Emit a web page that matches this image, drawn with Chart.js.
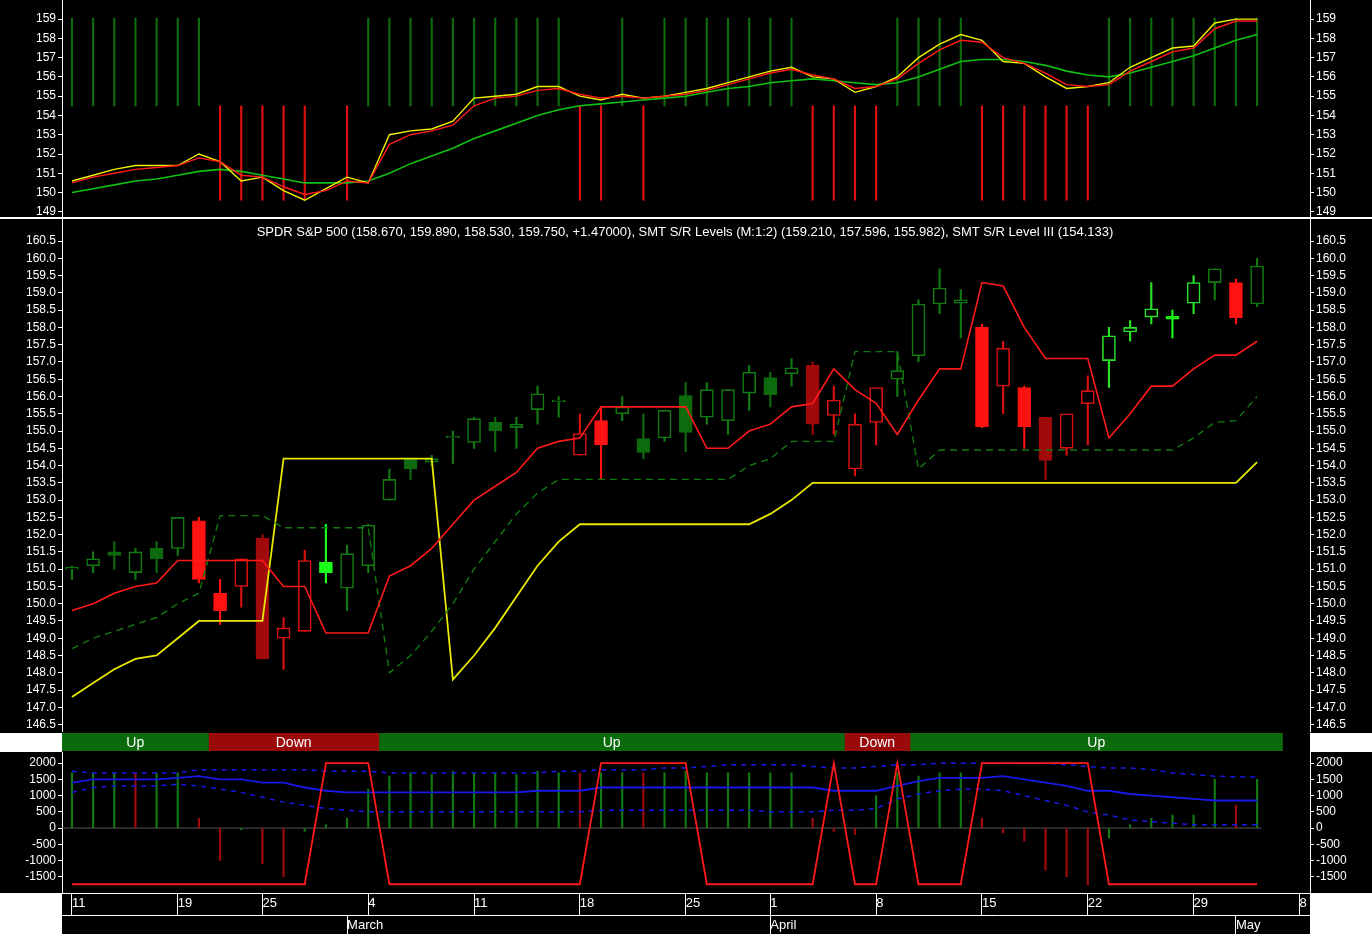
<!DOCTYPE html>
<html>
<head>
<meta charset="utf-8">
<script src="https://cdn.jsdelivr.net/npm/chart.js@4.4.1/dist/chart.umd.min.js"></script>
<style>
  body { margin:0; background:#000; width:1372px; height:934px; overflow:hidden; position:relative; font-family:"Liberation Sans", Arial, sans-serif; }
  .box { position:absolute; }
  .white { position:absolute; background:#fff; }
</style>
</head>
<body>
<div class="white" style="left:0;top:733px;width:62px;height:19px"></div>
<div class="white" style="left:1310px;top:733px;width:62px;height:19px"></div>
<div class="white" style="left:0;top:893px;width:62px;height:41px"></div>
<div class="white" style="left:1310px;top:893px;width:62px;height:41px"></div>
<div class="box" style="left:0;top:-9px;width:1372px;height:236px"><canvas id="top"></canvas></div>
<div class="box" style="left:0;top:210px;width:1372px;height:531px"><canvas id="main"></canvas></div>
<div class="white" style="left:0;top:217px;width:1372px;height:2px"></div>
<div class="box" style="left:62px;top:733px;width:1248px;height:18px;background:#000"><canvas id="band"></canvas></div>
<div class="box" style="left:0;top:743px;width:1372px;height:191px"><canvas id="bottom"></canvas></div>
<script>
// daily OHLC, Feb 11 - May 2
const opens  = [151.0,151.1,151.5,150.9,151.6,151.6,152.4,150.3,150.5,151.9,149.0,149.2,151.2,150.45,151.1,153.0,154.2,154.1,154.8,154.67,155.25,155.1,155.62,155.85,154.3,155.3,155.5,154.78,154.8,156.03,155.4,155.3,156.1,156.55,156.66,156.9,155.45,153.9,155.25,156.5,157.18,158.68,158.7,158.0,156.3,156.26,155.4,154.5,155.79,157.04,157.87,158.3,158.24,158.7,159.3,159.3,158.68];
const highs  = [151.1,151.5,151.8,151.6,151.8,152.5,152.5,150.7,151.3,152.0,149.6,151.55,152.3,151.7,152.3,153.9,154.2,154.3,155.0,155.4,155.4,155.4,156.3,156.0,155.5,155.7,156.0,155.5,155.6,156.4,156.4,156.2,156.9,156.7,157.1,157.0,156.3,155.5,156.2,157.3,158.8,159.7,159.1,158.1,157.6,156.3,155.4,155.5,156.6,158.0,158.2,159.3,158.5,159.5,159.7,159.4,160.0];
const lows   = [150.7,150.9,151.0,150.7,150.9,151.4,150.6,149.4,149.9,148.4,148.1,149.2,150.6,149.8,150.9,153.0,153.6,154.0,154.06,154.5,154.4,154.5,155.2,155.4,154.3,153.6,155.3,154.2,154.7,154.4,155.2,154.9,155.6,155.7,156.3,154.9,154.9,153.7,154.6,156.0,157.0,158.4,157.7,155.1,155.5,154.5,153.6,154.3,154.6,156.26,157.6,158.1,157.7,158.4,158.8,158.1,158.6];
const closes = [151.05,151.3,151.4,151.5,151.3,152.5,150.7,149.8,151.3,148.4,149.3,151.25,150.9,151.45,152.27,153.6,153.9,154.2,154.85,155.36,155.0,155.2,156.08,155.9,154.93,154.6,155.7,154.38,155.6,154.96,156.2,156.2,156.7,156.05,156.83,155.2,155.9,155.2,156.26,156.75,158.68,159.14,158.8,155.13,157.4,155.13,154.15,155.5,156.17,157.76,158.0,158.54,158.32,159.3,159.7,158.28,159.78];
const kinds = ['g','g','G','g','G','g','R','R','r','D','r','r','B','g','g','g','G','g','g','g','G','g','g','g','r','R','g','G','g','G','g','g','g','G','g','D','r','r','r','g','g','g','g','R','r','R','D','r','r','L','L','L','B','L','g','R','g'];

// S/R levels
const srLevel1 = [149.8,150.0,150.3,150.5,150.6,151.25,151.25,151.25,151.25,151.25,150.5,150.5,149.15,149.15,149.15,150.8,151.1,151.6,152.3,153.0,153.4,153.8,154.5,154.7,154.8,155.7,155.7,155.7,155.7,155.7,154.5,154.5,155.0,155.2,155.7,155.8,156.8,156.2,155.8,154.9,155.9,156.8,156.8,159.3,159.2,158.0,157.1,157.1,157.1,154.8,155.5,156.3,156.3,156.8,157.2,157.2,157.6];
const srLevel2 = [148.7,149.0,149.2,149.4,149.6,150.0,150.3,152.55,152.55,152.55,152.2,152.2,152.2,152.2,152.2,148.0,148.5,149.2,150.0,151.0,151.8,152.6,153.2,153.6,153.6,153.6,153.6,153.6,153.6,153.6,153.6,153.6,154.0,154.2,154.7,154.7,154.7,157.3,157.3,157.3,153.9,154.45,154.45,154.45,154.45,154.45,154.45,154.45,154.45,154.45,154.45,154.45,154.45,154.8,155.25,155.3,156.0];
const srLevel3 = [147.3,147.7,148.1,148.4,148.5,149.0,149.5,149.5,149.5,149.5,154.2,154.2,154.2,154.2,154.2,154.2,154.2,154.2,147.8,148.5,149.3,150.2,151.1,151.8,152.3,152.3,152.3,152.3,152.3,152.3,152.3,152.3,152.3,152.6,153.0,153.5,153.5,153.5,153.5,153.5,153.5,153.5,153.5,153.5,153.5,153.5,153.5,153.5,153.5,153.5,153.5,153.5,153.5,153.5,153.5,153.5,154.1];

// top panel averages and signal
const fastAvg = [150.6,150.9,151.2,151.4,151.4,151.4,152.0,151.6,150.6,150.8,150.1,149.6,150.2,150.8,150.5,153.0,153.2,153.3,153.7,154.9,155.0,155.1,155.5,155.5,155.0,154.8,155.1,154.9,155.0,155.2,155.4,155.7,156.0,156.3,156.5,156.0,155.9,155.2,155.5,156.0,157.0,157.7,158.2,157.9,156.8,156.7,156.0,155.4,155.5,155.7,156.5,157.0,157.5,157.6,158.8,159.0,159.0];
const midAvg  = [150.5,150.8,151.0,151.2,151.3,151.4,151.8,151.6,150.9,150.8,150.3,149.9,150.1,150.6,150.5,152.5,153.0,153.2,153.5,154.5,154.9,155.0,155.3,155.4,155.1,154.9,155.0,154.9,155.0,155.1,155.3,155.6,155.9,156.2,156.4,156.1,155.9,155.4,155.5,155.9,156.7,157.4,157.9,157.8,157.0,156.7,156.2,155.6,155.5,155.6,156.3,156.8,157.3,157.5,158.5,158.9,158.9];
const slowAvg = [150.0,150.2,150.4,150.6,150.7,150.9,151.1,151.2,151.1,150.9,150.7,150.5,150.5,150.5,150.6,151.0,151.5,151.9,152.3,152.8,153.2,153.6,154.0,154.3,154.5,154.6,154.7,154.8,154.9,155.0,155.2,155.4,155.5,155.7,155.8,155.9,155.8,155.7,155.6,155.7,156.0,156.4,156.8,156.9,156.9,156.8,156.6,156.3,156.1,156.0,156.2,156.5,156.8,157.1,157.5,157.9,158.2];
const trendSignal = [1,1,1,1,1,1,1,-1,-1,-1,-1,-1,0,-1,1,1,1,1,1,1,1,1,1,1,-1,-1,1,-1,1,1,1,1,1,1,1,-1,-1,-1,-1,1,1,1,1,-1,-1,-1,-1,-1,-1,1,1,1,1,1,1,1,1];

// bottom panel
const histo = [1700,1700,1700,1700,1700,1700,300,-1000,-50,-1100,-1500,-100,100,300,1200,1600,1700,1650,1750,1700,1700,1650,1750,1700,1700,1700,1700,1700,1700,1750,1700,1700,1700,1700,1700,300,-100,-200,1000,1700,1600,1700,1700,300,-150,-400,-1300,-1500,-1750,-300,100,300,400,400,1500,700,1500];
const histoKind = ['g','g','g','r','g','g','r','r','g','r','r','g','g','g','g','g','g','g','g','g','g','g','g','g','r','g','g','r','g','g','g','g','g','g','g','r','r','r','g','g','g','g','g','r','r','r','r','r','r','g','g','g','g','g','g','r','g'];
const blueMid   = [1400,1500,1500,1500,1500,1550,1600,1500,1500,1400,1400,1250,1150,1100,1100,1100,1100,1100,1100,1100,1100,1100,1150,1150,1150,1250,1250,1250,1250,1250,1250,1250,1250,1250,1250,1250,1150,1150,1150,1300,1450,1550,1550,1550,1600,1500,1400,1300,1150,1150,1050,1000,950,900,850,850,850];
const blueUpper = [1750,1700,1700,1700,1700,1700,1800,1800,1800,1800,1800,1800,1750,1750,1750,1700,1700,1700,1700,1700,1700,1700,1700,1750,1750,1800,1800,1800,1850,1850,1900,1950,1950,1950,1950,1900,1850,1850,1900,1950,1950,2000,2000,2000,2000,2000,2000,1950,1900,1850,1850,1800,1700,1650,1600,1580,1570];
const blueLower = [1100,1250,1300,1300,1300,1350,1300,1200,1100,950,800,700,600,550,500,500,500,500,500,500,500,500,500,500,500,550,550,550,550,550,550,550,550,500,500,500,550,550,600,900,1050,1150,1200,1200,1150,1000,850,700,500,400,250,200,150,100,100,100,100];
const oscillator = [-1730,-1730,-1730,-1730,-1730,-1730,-1730,-1730,-1730,-1730,-1730,-1730,2000,2000,2000,-1730,-1730,-1730,-1730,-1730,-1730,-1730,-1730,-1730,-1730,2000,2000,2000,2000,2000,-1730,-1730,-1730,-1730,-1730,-1730,2000,-1730,-1730,2000,-1730,-1730,-1730,2000,2000,2000,2000,2000,2000,-1730,-1730,-1730,-1730,-1730,-1730,-1730,-1730];

// trend band
const bandStarts = [-0.47, 6.45, 14.5, 36.5, 39.6];
const bandEnds   = [6.45, 14.5, 36.5, 39.6, 57.2];
const bandLabels = ['Up','Down','Up','Down','Up'];

// x axis
const dayTickIdx = [0,5,9,14,19,24,29,33,38,43,48,53,58];
const dayLabels  = ['11','19','25','4','11','18','25','1','8','15','22','29','8'];
const monthIdx   = [13,33,55];
const monthLabels = ['March','April','May'];

const XMIN = -0.47, XMAX = 58.5;
const FONT = 'Liberation Sans';
const kindColor = { g:'#127812', G:'#0d6a0d', L:'#28e028', B:'#1aff1a', r:'#d81010', R:'#ff1212', D:'#a00a0a' };
const filled = { g:false, G:true, L:false, B:true, r:false, R:true, D:true };

const pts = arr => arr.map((v, i) => ({ x: i, y: v }));

function yAxis(pos, min, max, tickVals, fmt) {
  return {
    type: 'linear', position: pos, min, max,
    afterFit: s => { s.width = 62; },
    afterBuildTicks: s => { s.ticks = tickVals.map(v => ({ value: v })); },
    ticks: { color: '#fff', font: { family: FONT, size: 12 }, padding: 2, autoSkip: false, callback: v => fmt(v) },
    grid: { drawOnChartArea: false, color: '#fff', tickLength: 4 },
    border: { color: '#fff' }
  };
}
function range(a, b, step) { const r = []; for (let v = a; v <= b + 1e-9; v += step) r.push(+v.toFixed(2)); return r; }

const hiddenX = { type: 'linear', min: XMIN, max: XMAX, offset: false, display: false };
const base = {
  responsive: true, maintainAspectRatio: false, animation: false,
  layout: { padding: 0 },
  plugins: { legend: { display: false }, tooltip: { enabled: false } },
  elements: { point: { radius: 0 } }
};

// top panel
const topTicks = range(149, 159, 1);
new Chart(document.getElementById('top'), {
  type: 'bar',
  data: { datasets: [
    { type: 'line', data: pts(slowAvg), borderColor: '#10c010', borderWidth: 1.6, order: 1 },
    { type: 'line', data: pts(midAvg), borderColor: '#ff1a1a', borderWidth: 1.4, order: 0 },
    { type: 'line', data: pts(fastAvg), borderColor: '#f0f000', borderWidth: 1.4, order: 0 },
    { data: trendSignal.map((s, i) => ({ x: i, y: s > 0 ? [154.5, 159.05] : s < 0 ? [149.6, 154.5] : null })),
      backgroundColor: trendSignal.map(s => s > 0 ? '#0d6a0d' : '#e01010'),
      barThickness: 1.5, grouped: false, order: 5 }
  ]},
  options: { ...base, scales: { x: hiddenX,
    y: yAxis('left', 148.69, 159.98, topTicks, v => v.toFixed(0)),
    y2: yAxis('right', 148.69, 159.98, topTicks, v => v.toFixed(0)) } }
});

// main panel
const titleText = 'SPDR S&P 500 (158.670, 159.890, 158.530, 159.750, +1.47000), SMT S/R Levels (M:1:2) (159.210, 157.596, 155.982), SMT S/R Level III (154.133)';
const titlePlugin = {
  id: 'panelTitle',
  afterDraw(chart) {
    const c = chart.ctx;
    c.save(); c.fillStyle = '#fff'; c.font = '13px ' + FONT; c.textAlign = 'center'; c.textBaseline = 'middle';
    c.fillText(titleText, 685, 22); c.restore();
  }
};
const mainTicks = range(146.5, 160.5, 0.5);
new Chart(document.getElementById('main'), {
  type: 'bar',
  data: { datasets: [
    { type: 'line', data: pts(srLevel1), borderColor: '#ff1a1a', borderWidth: 1.6, order: 0 },
    { type: 'line', data: pts(srLevel2), borderColor: '#127812', borderWidth: 1.4, borderDash: [7, 5], order: 0 },
    { type: 'line', data: pts(srLevel3), borderColor: '#e8e800', borderWidth: 1.8, order: 0 },
    { data: opens.map((o, i) => ({ x: i, y: [lows[i], highs[i]] })),
      backgroundColor: kinds.map(k => kindColor[k]), barThickness: 1.5, grouped: false, order: 3 },
    { data: opens.map((o, i) => ({ x: i, y: [o, closes[i]] })),
      backgroundColor: kinds.map(k => filled[k] ? kindColor[k] : '#000'),
      borderColor: kinds.map(k => kindColor[k]), borderWidth: 1.6, borderSkipped: false,
      barThickness: 13, grouped: false, order: 2 }
  ]},
  options: { ...base, scales: { x: hiddenX,
    y: yAxis('left', 146.29, 161.135, mainTicks, v => v.toFixed(1)),
    y2: yAxis('right', 146.29, 161.135, mainTicks, v => v.toFixed(1)) } },
  plugins: [titlePlugin]
});

// trend band
const bandText = {
  id: 'bandText',
  afterDatasetsDraw(chart) {
    const c = chart.ctx, xs = chart.scales.x, area = chart.chartArea;
    c.save(); c.fillStyle = '#fff'; c.font = '14px ' + FONT; c.textAlign = 'center'; c.textBaseline = 'middle';
    bandLabels.forEach((t, i) => c.fillText(t, (xs.getPixelForValue(bandStarts[i]) + xs.getPixelForValue(bandEnds[i])) / 2, (area.top + area.bottom) / 2 + 1));
    c.restore();
  }
};
new Chart(document.getElementById('band'), {
  type: 'bar',
  data: { labels: ['t'], datasets: bandLabels.map((t, i) => ({
    data: [[bandStarts[i], bandEnds[i]]],
    backgroundColor: t === 'Up' ? '#0b6a0b' : '#9a0a0a',
    barPercentage: 1, categoryPercentage: 1, grouped: false
  })) },
  options: { ...base, indexAxis: 'y',
    scales: { x: { type: 'linear', min: XMIN, max: XMAX, offset: false, display: false }, y: { display: false } } },
  plugins: [bandText]
});

// bottom panel
const botTicks = range(-1500, 2000, 500);
function dateAxis(tickIdx, labels, h) {
  return { type: 'linear', position: 'bottom', min: XMIN, max: XMAX, offset: false,
    afterFit: s => { s.height = h; },
    afterBuildTicks: s => { s.ticks = tickIdx.map(v => ({ value: v })); },
    ticks: { color: '#fff', font: { family: FONT, size: 13 }, align: 'start', padding: 3 - h, maxRotation: 0, autoSkip: false,
      callback: v => labels[tickIdx.indexOf(v)] },
    grid: { drawOnChartArea: false, offset: false, color: '#fff', tickLength: h }, border: { color: '#fff' } };
}
new Chart(document.getElementById('bottom'), {
  type: 'bar',
  data: { datasets: [
    { type: 'line', data: [{ x: XMIN, y: 0 }, { x: 56.2, y: 0 }], borderColor: '#555', borderWidth: 1, order: 4 },
    { type: 'line', data: pts(oscillator), borderColor: '#ff1a1a', borderWidth: 1.8, order: 0 },
    { type: 'line', data: pts(blueMid), borderColor: '#1818e8', borderWidth: 1.8, order: 1 },
    { type: 'line', data: pts(blueUpper), borderColor: '#1818e8', borderWidth: 1.5, borderDash: [5, 5], order: 1 },
    { type: 'line', data: pts(blueLower), borderColor: '#1818e8', borderWidth: 1.5, borderDash: [5, 5], order: 1 },
    { data: pts(histo), backgroundColor: histoKind.map(k => k === 'g' ? '#127812' : '#a00a0a'),
      barThickness: 1.5, grouped: false, order: 3 }
  ]},
  options: { ...base, scales: {
    x: dateAxis(dayTickIdx, dayLabels, 22),
    x2: dateAxis(monthIdx, monthLabels, 19),
    y: yAxis('left', -2000, 2338, botTicks, v => v.toFixed(0)),
    y2: yAxis('right', -2000, 2338, botTicks, v => v.toFixed(0))
  } }
});
</script>
</body>
</html>
